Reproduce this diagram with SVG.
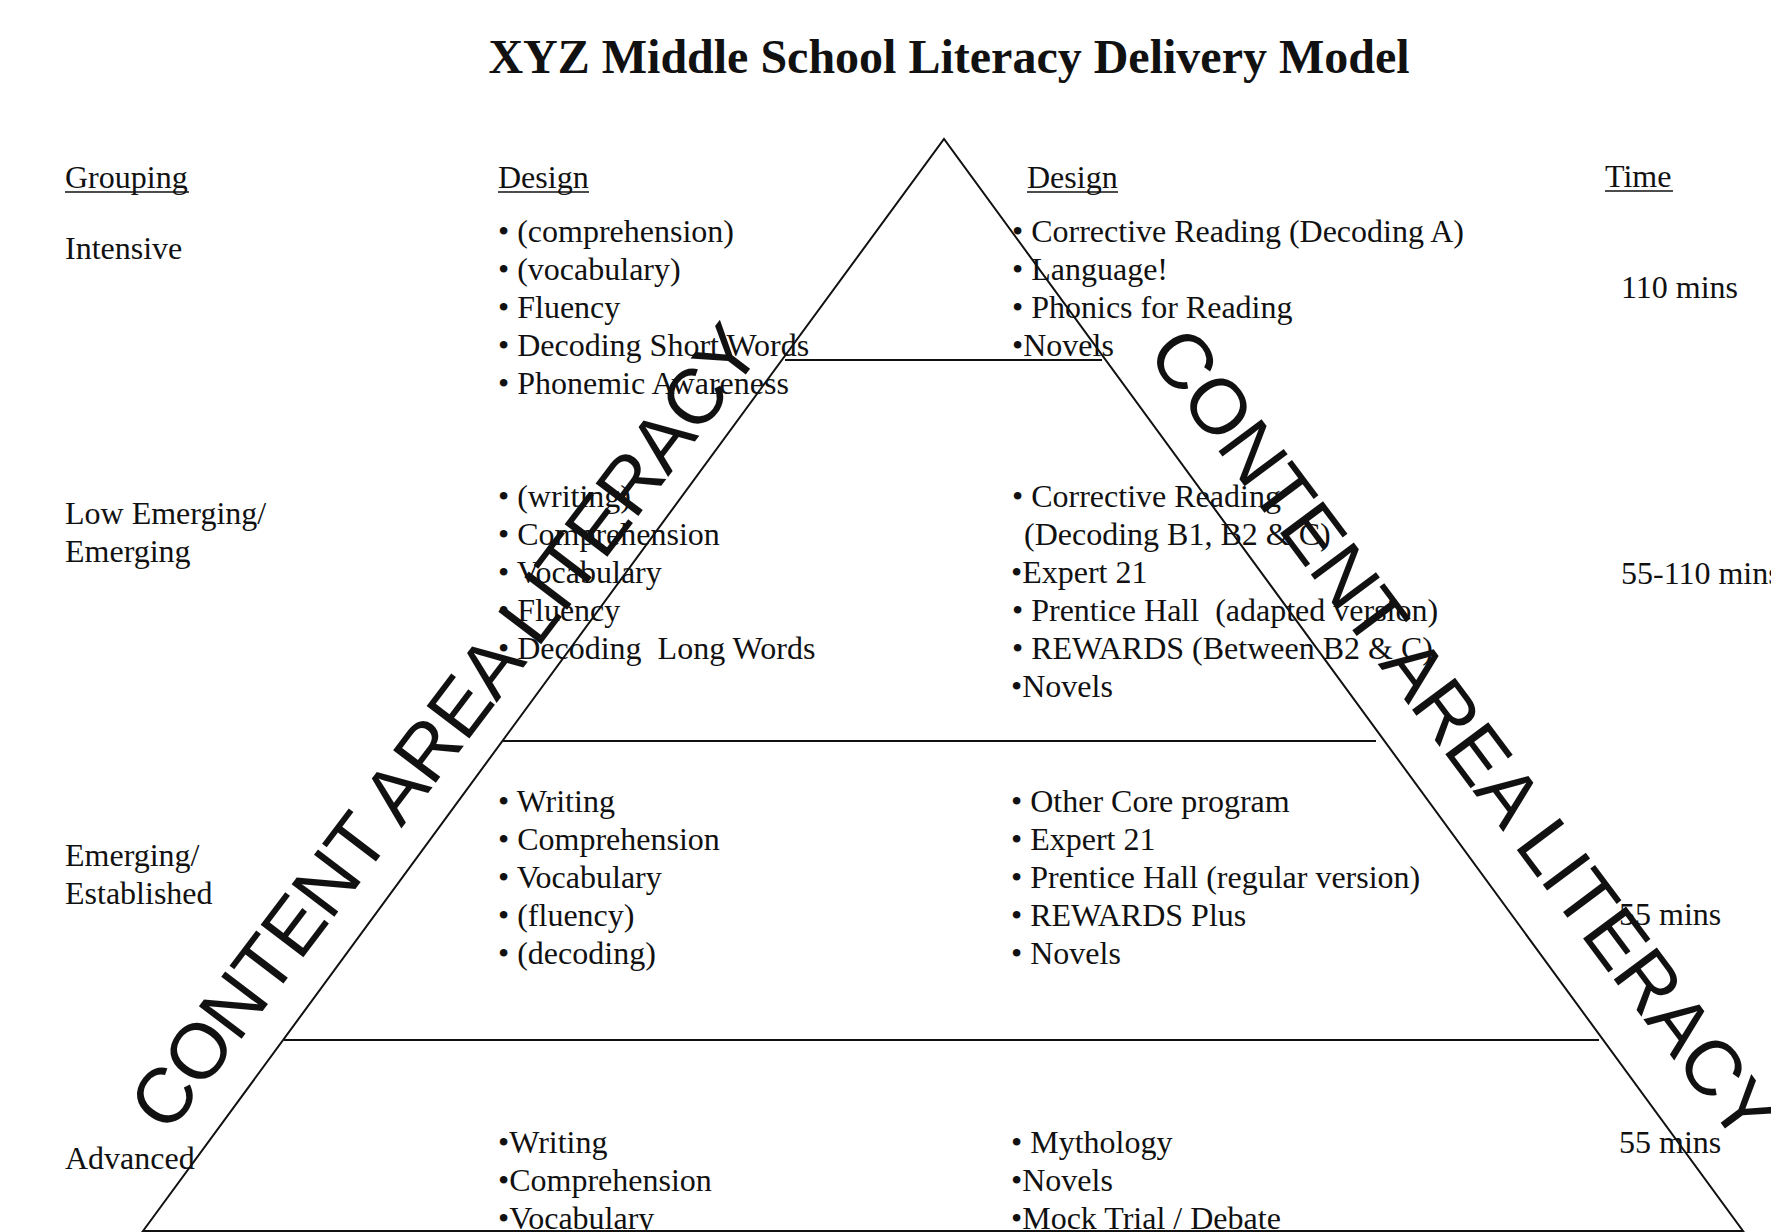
<svg xmlns="http://www.w3.org/2000/svg" width="1771" height="1232" viewBox="0 0 1771 1232">
<style>
.t{font-family:"Liberation Serif","Times New Roman",serif;font-size:32px;fill:#111}
.title{font-family:"Liberation Serif","Times New Roman",serif;font-size:48px;font-weight:bold;fill:#111}
.big{font-family:"Liberation Sans",Arial,sans-serif;font-size:78px;fill:#111}
.ln{stroke:#111;stroke-width:2;fill:none}
.ul{stroke:#111;stroke-width:1.6}
</style>
<rect width="1771" height="1232" fill="#fff"/>
<g id="title"><text class="title" x="949" y="73" text-anchor="middle">XYZ Middle School Literacy Delivery Model</text></g>

<g id="pyramid">
<path class="ln" d="M143,1231 L944,139 L1743,1231 Z"/>
<line class="ln" x1="785" y1="360" x2="1102" y2="360"/>
<line class="ln" x1="503" y1="741" x2="1376" y2="741"/>
<line class="ln" x1="284" y1="1040" x2="1599" y2="1040"/>
</g>

<g id="headers">
<text class="t" x="65" y="188">Grouping</text><line class="ul" x1="65" y1="192" x2="189" y2="192"/>
<text class="t" x="498" y="188">Design</text><line class="ul" x1="498" y1="192" x2="589" y2="192"/>
<text class="t" x="1027" y="188">Design</text><line class="ul" x1="1027" y1="192" x2="1118" y2="192"/>
<text class="t" x="1605" y="187">Time</text><line class="ul" x1="1605" y1="191" x2="1673" y2="191"/>
</g>

<g id="row-intensive">
<text class="t" x="65" y="259">Intensive</text>
<text class="t" x="498" y="242">• (comprehension)</text>
<text class="t" x="498" y="280">• (vocabulary)</text>
<text class="t" x="498" y="318">• Fluency</text>
<text class="t" x="498" y="356">• Decoding Short Words</text>
<text class="t" x="498" y="394">• Phonemic Awareness</text>
<text class="t" x="1012" y="242">• Corrective Reading (Decoding A)</text>
<text class="t" x="1012" y="280">• Language!</text>
<text class="t" x="1012" y="318">• Phonics for Reading</text>
<text class="t" x="1012" y="356">•Novels</text>
<text class="t" x="1621" y="298">110 mins</text>
</g>

<g id="row-low-emerging">
<text class="t" x="65" y="524">Low Emerging/</text>
<text class="t" x="65" y="562">Emerging</text>
<text class="t" x="498" y="507">• (writing)</text>
<text class="t" x="498" y="545">• Comprehension</text>
<text class="t" x="498" y="583">• Vocabulary</text>
<text class="t" x="498" y="621">• Fluency</text>
<text class="t" x="498" y="659" xml:space="preserve">• Decoding  Long Words</text>
<text class="t" x="1012" y="507">• Corrective Reading</text>
<text class="t" x="1024" y="545">(Decoding B1, B2 &amp; C)</text>
<text class="t" x="1011" y="583">•Expert 21</text>
<text class="t" x="1012" y="621" xml:space="preserve">• Prentice Hall  (adapted version)</text>
<text class="t" x="1012" y="659">• REWARDS (Between B2 &amp; C)</text>
<text class="t" x="1011" y="697">•Novels</text>
<text class="t" x="1621" y="584">55-110 mins</text>
</g>

<g id="row-emerging-established">
<text class="t" x="65" y="866">Emerging/</text>
<text class="t" x="65" y="904">Established</text>
<text class="t" x="498" y="812">• Writing</text>
<text class="t" x="498" y="850">• Comprehension</text>
<text class="t" x="498" y="888">• Vocabulary</text>
<text class="t" x="498" y="926">• (fluency)</text>
<text class="t" x="498" y="964">• (decoding)</text>
<text class="t" x="1011" y="812">• Other Core program</text>
<text class="t" x="1011" y="850">• Expert 21</text>
<text class="t" x="1011" y="888">• Prentice Hall (regular version)</text>
<text class="t" x="1011" y="926">• REWARDS Plus</text>
<text class="t" x="1011" y="964">• Novels</text>
<text class="t" x="1619" y="925">55 mins</text>
</g>

<g id="row-advanced">
<text class="t" x="65" y="1169">Advanced</text>
<text class="t" x="498" y="1153">•Writing</text>
<text class="t" x="498" y="1191">•Comprehension</text>
<text class="t" x="498" y="1229">•Vocabulary</text>
<text class="t" x="1011" y="1153">• Mythology</text>
<text class="t" x="1011" y="1191">•Novels</text>
<text class="t" x="1011" y="1229">•Mock Trial / Debate</text>
<text class="t" x="1619" y="1153">55 mins</text>
</g>

<g id="side-labels">
<text class="big" x="466" y="743" text-anchor="middle" textLength="985" lengthAdjust="spacing" transform="rotate(-52.8 466 743)">CONTENT AREA LITERACY</text>
<text class="big" x="1442" y="750" text-anchor="middle" textLength="990" lengthAdjust="spacing" transform="rotate(53.2 1442 750)">CONTENT AREA LITERACY</text>
</g>
</svg>
